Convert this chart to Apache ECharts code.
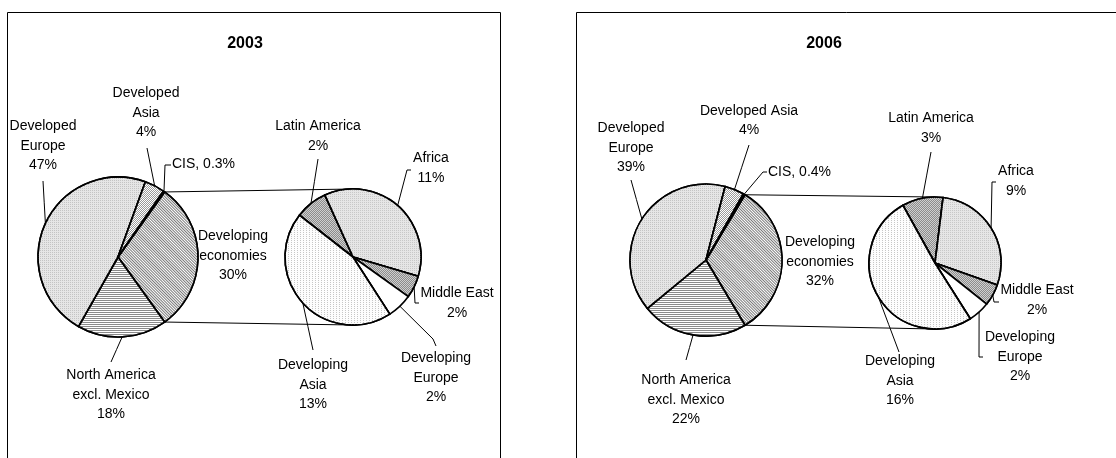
<!DOCTYPE html>
<html><head><meta charset="utf-8">
<script src="https://cdn.jsdelivr.net/npm/echarts@6/dist/echarts.min.js"></script>
<style>html,body{margin:0;padding:0;background:#fff}#c{width:1116px;height:458px}</style>
</head><body><div id="c"></div>
<script>
// ---------------- data ----------------
const titles = ['2003', '2006'];
const primaryNames = ['Developing economies', 'North America excl. Mexico', 'Developed Europe', 'Developed Asia', 'CIS'];
const primaryValues2003 = [30, 18, 47, 4, 0.3];
const primaryValues2006 = [32, 22, 39, 4, 0.4];
const secondaryNames = ['Latin America', 'Africa', 'Middle East', 'Developing Europe', 'Developing Asia'];
const secondaryValues2003 = [2.3, 10.9, 1.6, 1.8, 13.4];
const secondaryValues2006 = [3.2, 9.1, 1.7, 1.7, 16.3];
const primaryLabelNames2003 = ['Developing\neconomies', 'North America\nexcl. Mexico', 'Developed\nEurope', 'Developed\nAsia', 'CIS'];
const primaryLabelNames2006 = ['Developing\neconomies', 'North America\nexcl. Mexico', 'Developed\nEurope', 'Developed Asia', 'CIS'];
const secondaryLabelNames = ['Latin America', 'Africa', 'Middle East', 'Developing\nEurope', 'Developing\nAsia'];
const primaryLabelSep = ['\n', '\n', '\n', '\n', ', '];
const primaryLabelDigits = [0, 0, 0, 0, 1];

// ---------------- styles / layout ----------------
const FONT = '"Liberation Sans", Arial, Helvetica, sans-serif';
const checker = [[1, 1], [0, 1, 1, 0]];
const fills = {
  'Developing economies': { color: '#ffffff', decal: { symbol: 'rect', symbolSize: 1, dashArrayX: [1, 0], dashArrayY: [1, 1], rotation: Math.PI / 4, color: '#7a7a7a' } },
  'North America excl. Mexico': { color: '#ffffff', decal: { symbol: 'rect', symbolSize: 1, dashArrayX: [1, 0], dashArrayY: [1, 1], color: '#8a8a8a' } },
  'Developed Europe': { color: '#e6e6e6', decal: { symbol: 'rect', symbolSize: 1, dashArrayX: [1, 1], dashArrayY: [1, 1], color: '#c4c4c4' } },
  'Developed Asia': { color: '#ffffff', decal: { symbol: 'rect', symbolSize: 1, dashArrayX: checker, dashArrayY: [1, 0], color: '#9a9a9a' } },
  'CIS': { color: '#000000' },
  'Latin America': { color: '#cfcfcf', decal: { symbol: 'rect', symbolSize: 1, dashArrayX: checker, dashArrayY: [1, 0], color: '#8c8c8c' } },
  'Africa': { color: '#e6e6e6', decal: { symbol: 'rect', symbolSize: 1, dashArrayX: [1, 1], dashArrayY: [1, 1], color: '#c8c8c8' } },
  'Middle East': { color: '#cfcfcf', decal: { symbol: 'rect', symbolSize: 1, dashArrayX: checker, dashArrayY: [1, 0], color: '#8c8c8c' } },
  'Developing Europe': { color: '#ffffff' },
  'Developing Asia': { color: '#fdfdfd', decal: { symbol: 'rect', symbolSize: 1, dashArrayX: [1, 2], dashArrayY: [1, 1], color: '#c6c6c6' } }
};

const panels = [
  {
    box: [7.5, 12.5, 493, 480], title: [245, 44],
    P: { c: [118, 257], r: 80 }, S: { c: [353, 257], r: 68, start: 142 },
    pv: primaryValues2003, sv: secondaryValues2003, pLabels: primaryLabelNames2003,
    pLayout: [
      { t: [115, -1] },
      { t: [-7, 138], line: [[-7, 105]] },
      { t: [-75, -111], line: [[-75, -76]] },
      { t: [28, -144], line: [[29, -109]] },
      { t: [54, -93], align: 'left', line: [[47, -92], [53, -92]] }
    ],
    sLayout: [
      { t: [-35, -121], line: [[-35, -98]] },
      { t: [78, -89], line: [[54, -87], [58, -87]] },
      { t: [104, 46], line: [[62, 46], [66, 46]] },
      { t: [83, 121], line: [[80, 82], [83, 89]] },
      { t: [-40, 128], line: [[-40, 93]] }
    ]
  },
  {
    box: [576.5, 12.5, 560, 480], title: [824, 44],
    P: { c: [706, 260], r: 76 }, S: { c: [935, 263], r: 66, start: 119 },
    pv: primaryValues2006, sv: secondaryValues2006, pLabels: primaryLabelNames2006,
    pLayout: [
      { t: [114, 2] },
      { t: [-20, 140], line: [[-20, 100]] },
      { t: [-75, -112], line: [[-75, -80]] },
      { t: [43, -139.5], line: [[43, -115]] },
      { t: [62, -88], align: 'left', line: [[57, -88], [61, -88]] }
    ],
    sLayout: [
      { t: [-4, -135], line: [[-4, -111]] },
      { t: [81, -82], line: [[57, -81], [61, -81]] },
      { t: [102, 37], line: [[59, 39], [64, 39]] },
      { t: [85, 94], line: [[44, 94], [48, 94]] },
      { t: [-35, 118], line: [[-36, 89]] }
    ]
  }
];

function sum(a) { return a.reduce((x, y) => x + y, 0); }
function midAngles(values, start) {
  const s = sum(values); let a = start;
  return values.map(v => { const span = v / s * 360; const m = a - span / 2; a -= span; return m; });
}

function makePie(center, r, startAngle, names, values, texts, layout) {
  const mids = midAngles(values, startAngle);
  return {
    type: 'pie', center: center, radius: r, startAngle: startAngle, clockwise: true,
    avoidLabelOverlap: false, silent: true, animation: false,
    label: { show: true, position: 'outside', fontFamily: FONT, fontSize: 14, lineHeight: 19.5, color: '#000' },
    labelLine: { show: true, length: 8, length2: 8, smooth: false, lineStyle: { color: '#000', width: 1 } },
    itemStyle: { borderColor: '#000', borderWidth: 1.6 },
    emphasis: { disabled: true },
    data: names.map((n, i) => ({
      name: n, value: values[i],
      label: { formatter: texts[i] },
      labelLine: { show: !!layout[i].line },
      itemStyle: Object.assign({}, fills[n])
    })),
    labelLayout: function (p) {
      const L = layout[p.dataIndex];
      const out = { x: center[0] + L.t[0], y: center[1] + L.t[1], align: L.align || 'center', verticalAlign: 'middle' };
      if (L.line) {
        const a = mids[p.dataIndex] * Math.PI / 180;
        const p0 = [center[0] + r * Math.cos(a), center[1] - r * Math.sin(a)];
        const pts = [p0];
        L.line.forEach(q => pts.push([center[0] + q[0], center[1] + q[1]]));
        if (pts.length === 2) pts.splice(1, 0, [(p0[0] + pts[1][0]) / 2, (p0[1] + pts[1][1]) / 2]);
        out.labelLinePoints = pts;
      }
      return out;
    }
  };
}

const series = [];
const graphic = [];
panels.forEach((pn, k) => {
  const pStart = pn.pv[0] / sum(pn.pv) * 180;
  const pTexts = pn.pv.map((v, i) => pn.pLabels[i] + primaryLabelSep[i] + v.toFixed(primaryLabelDigits[i]) + '%');
  const sTexts = pn.sv.map((v, i) => secondaryLabelNames[i] + '\n' + Math.round(v) + '%');
  series.push(makePie(pn.P.c, pn.P.r, pStart, primaryNames, pn.pv, pTexts, pn.pLayout));
  series.push(makePie(pn.S.c, pn.S.r, pn.S.start, secondaryNames, pn.sv, sTexts, pn.sLayout));
  // panel frame
  graphic.push({ type: 'rect', z: 0, shape: { x: pn.box[0], y: pn.box[1], width: pn.box[2], height: pn.box[3] }, style: { fill: 'none', stroke: '#000', lineWidth: 1 } });
  graphic.push({ type: 'text', z: 1, x: pn.title[0], y: pn.title[1], style: { text: titles[k], align: 'center', verticalAlign: 'middle', fontFamily: FONT, fontSize: 16, fontWeight: 'bold', fill: '#000' } });
  // connector lines from "Developing economies" slice edges to the secondary pie
  const a = pStart * Math.PI / 180;
  const cx = pn.P.c[0], cy = pn.P.c[1], r = pn.P.r;
  const top = [cx + r * Math.cos(a), cy - r * Math.sin(a)];
  const bot = [cx + r * Math.cos(a), cy + r * Math.sin(a)];
  graphic.push({ type: 'line', z: 0, shape: { x1: top[0], y1: top[1], x2: pn.S.c[0], y2: pn.S.c[1] - pn.S.r }, style: { stroke: '#000', lineWidth: 1 } });
  graphic.push({ type: 'line', z: 0, shape: { x1: bot[0], y1: bot[1], x2: pn.S.c[0], y2: pn.S.c[1] + pn.S.r }, style: { stroke: '#000', lineWidth: 1 } });
});

const chart = echarts.init(document.getElementById('c'), null, { renderer: 'canvas' });
chart.setOption({ animation: false, backgroundColor: '#ffffff', graphic: graphic, series: series });
</script>
</body></html>
